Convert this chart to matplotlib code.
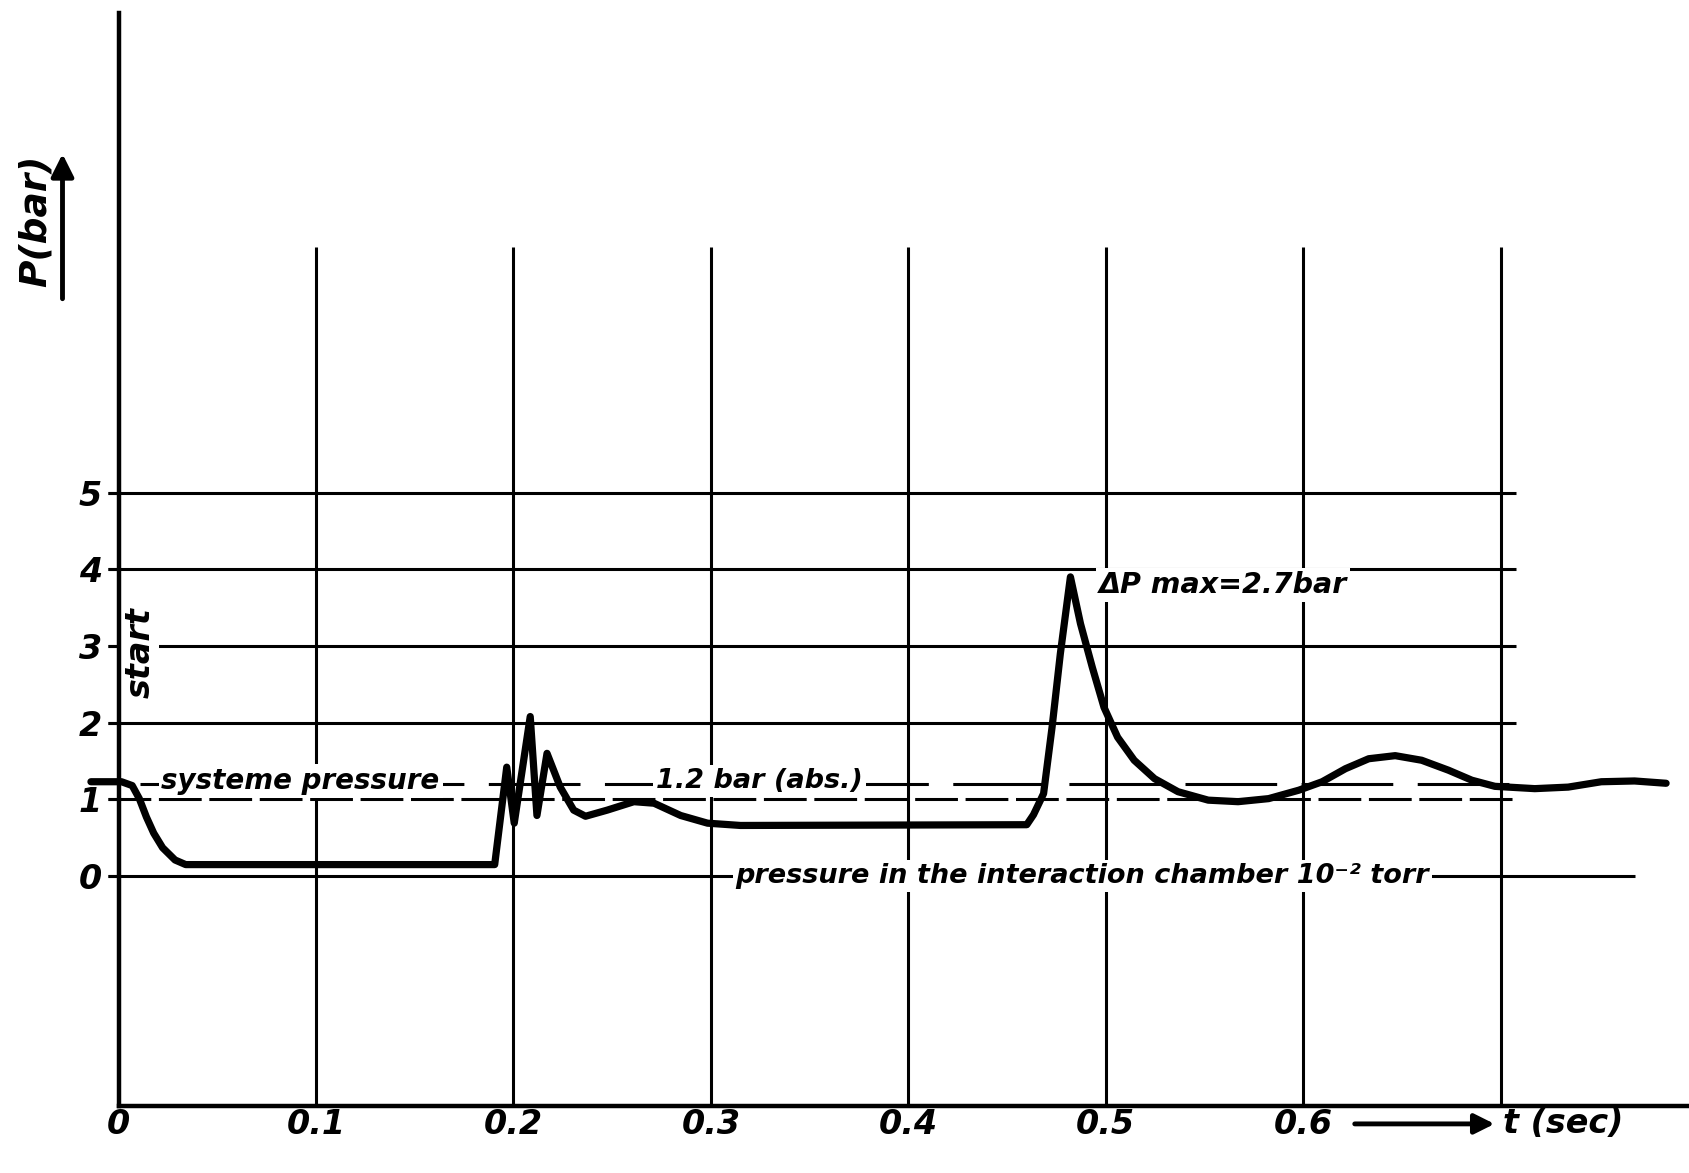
import matplotlib
matplotlib.use("Agg")
import matplotlib.pyplot as plt
from matplotlib import font_manager as fm

# Pressure trace
time_s = [-0.014, 0.0015, 0.0069, 0.0105, 0.0141, 0.0178, 0.0223, 0.0286, 0.034,
          0.1905, 0.1916, 0.1966, 0.2004, 0.2085, 0.2119, 0.217, 0.2237, 0.2305,
          0.2365, 0.2475, 0.261, 0.2712, 0.2847, 0.2983, 0.315, 0.46, 0.4634,
          0.4685, 0.4728, 0.477, 0.4821, 0.4872, 0.4932, 0.4991, 0.506, 0.5144,
          0.5247, 0.5366, 0.5519, 0.567, 0.5825, 0.5978, 0.6096, 0.6214, 0.6332,
          0.6466, 0.66, 0.6736, 0.6854, 0.6971, 0.7173, 0.7342, 0.751, 0.7678,
          0.7838]
pressure_bar = [1.23, 1.23, 1.18, 1.01, 0.77, 0.56, 0.37, 0.21, 0.15,
                0.15, 0.38, 1.42, 0.69, 2.08, 0.79, 1.60, 1.16, 0.86,
                0.78, 0.86, 0.97, 0.95, 0.79, 0.69, 0.66, 0.67, 0.8,
                1.075, 1.94, 2.90, 3.9, 3.29, 2.72, 2.20, 1.81, 1.51,
                1.27, 1.10, 0.99, 0.97, 1.01, 1.12, 1.23, 1.40, 1.53,
                1.57, 1.51, 1.38, 1.25, 1.17, 1.14, 1.16, 1.23, 1.24,
                1.21]

system_pressure = 1.2
x_ticks = [0, 0.1, 0.2, 0.3, 0.4, 0.5, 0.6]
x_tick_labels = ["0", "0.1", "0.2", "0.3", "0.4", "0.5", "0.6"]
y_ticks = [0, 1, 2, 3, 4, 5]
y_tick_labels = ["0", "1", "2", "3", "4", "5"]
grid_times = [0.1, 0.2, 0.3, 0.4, 0.5, 0.6, 0.7]
solid_levels = [2, 3, 4, 5]

installed = {f.name for f in fm.fontManager.ttflist}
narrow = "Liberation Sans Narrow" if "Liberation Sans Narrow" in installed else "DejaVu Sans"

fig = plt.figure(figsize=(16.89, 11.73), dpi=100)
ax = fig.add_axes([0.0702, 0.0569, 0.9298, 0.932])
ax.set_xlim(0, 0.7954)
ax.set_ylim(-3.0, 11.25)

for s in ("top", "right"):
    ax.spines[s].set_visible(False)
for s in ("left", "bottom"):
    ax.spines[s].set_linewidth(3.2)
    ax.spines[s].set_zorder(5)

grid_kw = dict(color="black", lw=2.2, zorder=1, clip_on=False)
# vertical grid
ax.vlines(grid_times, -3.0, 8.2, **grid_kw)
# horizontal grid
ax.hlines(solid_levels, -0.0055, 0.708, **grid_kw)
ax.hlines([0], -0.0055, 0.768, **grid_kw)
ax.hlines([1], -0.0055, 0.708, linestyles=(0, (14, 2.5)), **grid_kw)
ax.hlines([system_pressure], 0.011, 0.708, linestyles=(0, (30, 8)), **grid_kw)

# pressure curve
ax.plot(time_s, pressure_bar, color="black", lw=5.2, zorder=4, clip_on=False,
        solid_joinstyle="round", solid_capstyle="round")

tick_font = dict(family=[narrow, "DejaVu Sans"], style="italic", weight="bold", size=24)
ax.set_xticks(x_ticks)
ax.set_xticklabels(x_tick_labels, fontdict=tick_font)
ax.set_yticks(y_ticks)
ax.set_yticklabels(y_tick_labels, fontdict=tick_font)
ax.tick_params(axis="x", length=0, pad=1)
ax.tick_params(axis="y", length=8, width=2.2, pad=4)

label_kw = dict(family="DejaVu Sans", style="italic", weight="bold", zorder=3,
                bbox=dict(facecolor="white", edgecolor="none", pad=2))

ax.text(0.0922, 1.24, "systeme pressure", ha="center", va="center", size=20, **label_kw)
ax.text(0.3246, 1.24, "1.2 bar (abs.)", ha="center", va="center", size=19.5, **label_kw)
dp = max(pressure_bar) - system_pressure
ax.text(0.4965, 3.79, f"ΔP max={dp:.1f}bar", ha="left", va="center", size=20.5, **label_kw)
ax.text(0.3126, 0.0, "pressure in the interaction chamber 10⁻² torr",
        ha="left", va="center", size=19.5, **label_kw)
ax.text(0.0109, 2.92, "start", rotation=90, ha="center", va="center", size=24, **label_kw)

# axis titles with arrows
ax.text(-0.042, 8.54, "P(bar)", rotation=90, ha="center", va="center",
        family="DejaVu Sans", style="italic", weight="bold", size=27, clip_on=False)
ax.annotate("", xy=(-0.0284, 9.45), xytext=(-0.0284, 7.49),
            arrowprops=dict(arrowstyle="-|>", lw=3.5, mutation_scale=34, color="black"),
            annotation_clip=False)
ax.annotate("", xy=(0.6983, -3.23), xytext=(0.6247, -3.23),
            arrowprops=dict(arrowstyle="-|>", lw=3.5, mutation_scale=30, color="black"),
            annotation_clip=False)
ax.text(0.701, -3.23, "t (sec)", ha="left", va="center",
        family=[narrow, "DejaVu Sans"], style="italic", weight="bold", size=24)

fig.savefig("out.png", dpi=100, facecolor="white")
